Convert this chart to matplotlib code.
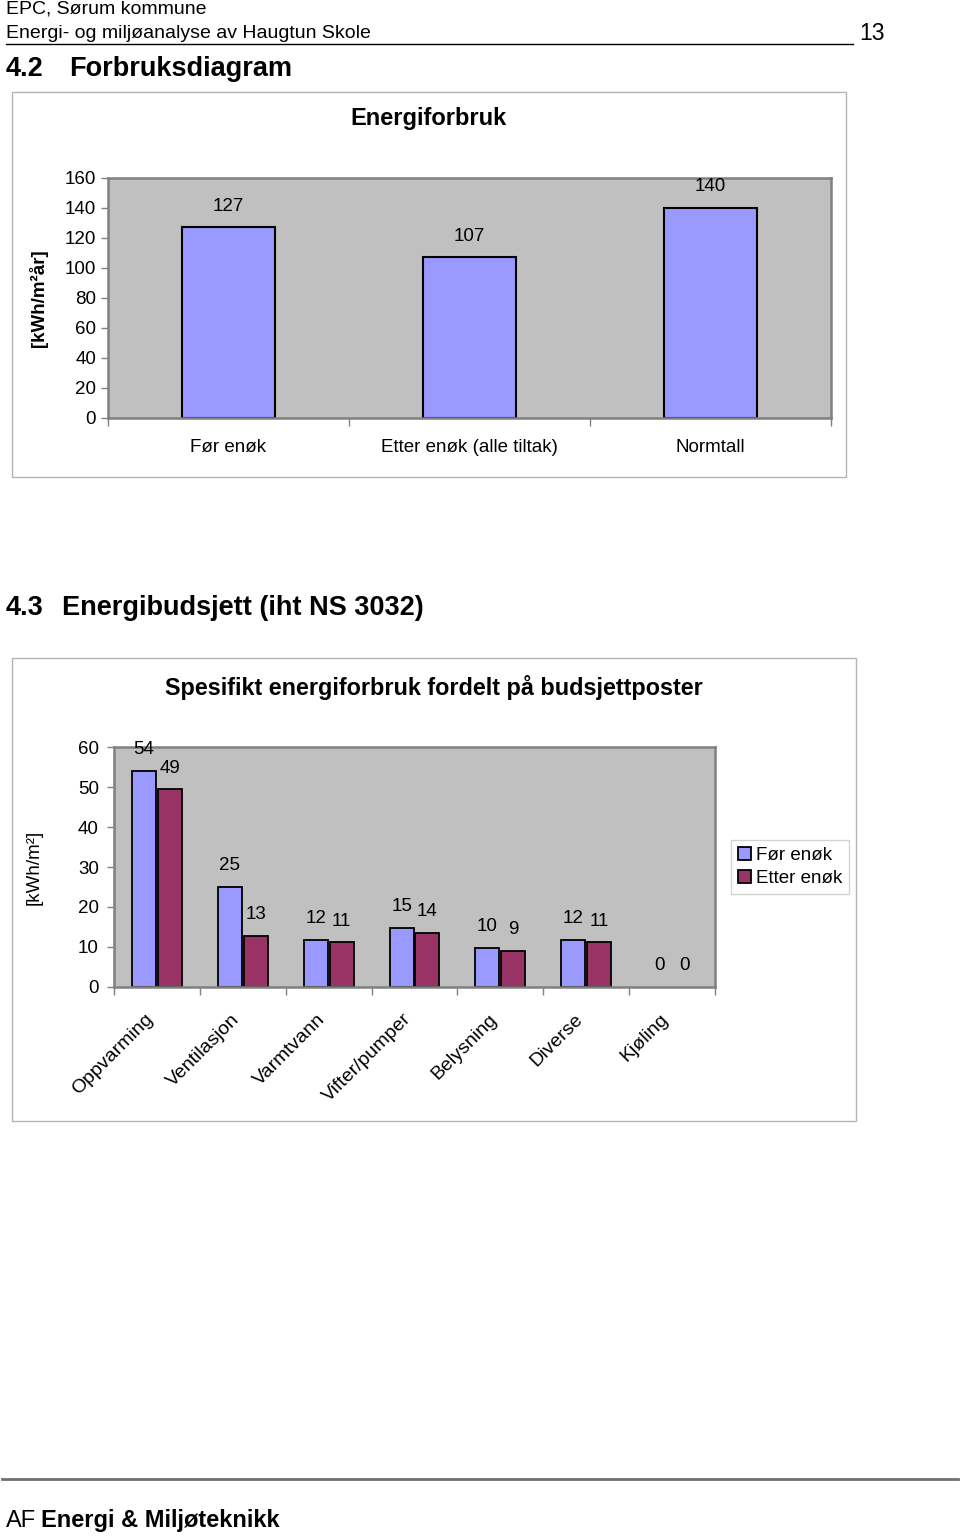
import matplotlib
matplotlib.use("Agg")
import matplotlib.pyplot as plt
from matplotlib.patches import Rectangle
from matplotlib.lines import Line2D
import numpy as np

plt.rcParams['font.family'] = ['Liberation Sans', 'DejaVu Sans']

# data - chart 1
cat1 = ["Før enøk", "Etter enøk (alle tiltak)", "Normtall"]
val1 = [127, 107, 140]
yticks1 = [0, 20, 40, 60, 80, 100, 120, 140, 160]

# data - chart 2
cat2 = ["Oppvarming", "Ventilasjon", "Varmtvann", "Vifter/pumper", "Belysning", "Diverse", "Kjøling"]
foer = [54, 25, 11.8, 14.8, 9.8, 11.8, 0]
etter = [49.4, 12.8, 11.2, 13.6, 9.0, 11.2, 0]
yticks2 = [0, 10, 20, 30, 40, 50, 60]
series2 = ["Før enøk", "Etter enøk"]

W, H = 960, 1537
fig = plt.figure(figsize=(W / 100, H / 100), dpi=100)

BLUE = "#9999FF"
RED = "#993366"
BG = "#C0C0C0"
GREY = "#808080"


def rect(l, t, r, b):
    return [l / W, 1 - b / H, (r - l) / W, (b - t) / H]


def ftext(x, y, s, **kw):
    fig.text(x / W, 1 - y / H, s, **kw)


def box(l, t, r, b):
    fig.patches.append(Rectangle((l / W, 1 - b / H), (r - l) / W, (b - t) / H,
                                 transform=fig.transFigure, fill=False,
                                 edgecolor="#b4b4b4", linewidth=1.0))


def style_axes(ax):
    ax.set_facecolor(BG)
    for s in ax.spines.values():
        s.set_color(GREY)
        s.set_linewidth(1.8)
    ax.tick_params(axis="y", colors=GREY, labelcolor="black", length=5, width=1)
    ax.tick_params(axis="x", which="both", colors=GREY, labelcolor="black", width=1)


# page header
ftext(6, 9, "EPC, Sørum kommune", fontsize=14, va="center", ha="left")
ftext(6, 34, "Energi- og miljøanalyse av Haugtun Skole", fontsize=14, va="center", ha="left")
fig.add_artist(Line2D([6 / W, 853 / W], [1 - 44 / H, 1 - 44 / H], color="black", linewidth=1))
ftext(872, 33, "13", fontsize=16.5, va="center", ha="center")
ftext(6, 69, "4.2", fontsize=19.5, fontweight="bold", va="center", ha="left")
ftext(69, 69, "Forbruksdiagram", fontsize=19.5, fontweight="bold", va="center", ha="left")

# chart 1
box(12, 92, 846, 477)
ftext(429, 119, "Energiforbruk", fontsize=17, fontweight="bold", ha="center", va="center")
ax1 = fig.add_axes(rect(108, 178, 831, 418))
style_axes(ax1)
x1 = np.arange(len(cat1))
b1 = ax1.bar(x1, val1, width=0.39, color=BLUE, edgecolor="black", linewidth=1.5)
ax1.bar_label(b1, labels=[str(v) for v in val1], padding=9, fontsize=13.5)
ax1.set_xlim(-0.5, len(cat1) - 0.5)
ax1.set_ylim(0, 160)
ax1.set_yticks(yticks1)
ax1.set_xticks(x1)
ax1.set_xticklabels(cat1, fontsize=13.5)
ax1.tick_params(axis="x", which="major", length=0, pad=15)
ax1.set_xticks(np.arange(len(cat1) + 1) - 0.5, minor=True)
ax1.tick_params(axis="x", which="minor", length=6)
ax1.tick_params(axis="y", labelsize=13.5)
ax1.set_ylabel("[kWh/m²år]", fontsize=13.5, fontweight="bold", labelpad=12)

# section 4.3
ftext(6, 608, "4.3", fontsize=19.5, fontweight="bold", va="center", ha="left")
ftext(62, 608, "Energibudsjett (iht NS 3032)", fontsize=19.5, fontweight="bold", va="center", ha="left")

# chart 2
box(12, 658, 856, 1121)
ftext(434, 687, "Spesifikt energiforbruk fordelt på budsjettposter", fontsize=16.8,
      fontweight="bold", ha="center", va="center")
ax2 = fig.add_axes(rect(114, 747, 715, 987))
style_axes(ax2)
x2 = np.arange(len(cat2))
w = 0.28
ba = ax2.bar(x2 - 0.15, foer, width=w, color=BLUE, edgecolor="black", linewidth=1.3, label=series2[0])
bb = ax2.bar(x2 + 0.15, etter, width=w, color=RED, edgecolor="black", linewidth=1.3, label=series2[1])
for p in list(ba) + list(bb):
    if p.get_height() == 0:
        p.set_linewidth(0)
ax2.bar_label(ba, fmt="%.0f", padding=9, fontsize=13.5)
ax2.bar_label(bb, fmt="%.0f", padding=9, fontsize=13.5)
ax2.set_xlim(-0.5, len(cat2) - 0.5)
ax2.set_ylim(0, 60)
ax2.set_yticks(yticks2)
ax2.tick_params(axis="y", labelsize=13.5, pad=6)
# label anchors sit a bit left of the category centre, as in the original
ax2.set_xticks(x2 - 0.14)
ax2.set_xticklabels(cat2, fontsize=14, rotation=45, ha="right", va="top", rotation_mode="anchor")
ax2.tick_params(axis="x", which="major", length=0, pad=17)
ax2.set_xticks(np.arange(len(cat2) + 1) - 0.5, minor=True)
ax2.tick_params(axis="x", which="minor", length=6)
ax2.set_ylabel("[kWh/m²]", fontsize=13.5)
ax2.yaxis.set_label_coords(-(114 - 43) / (715 - 114), 0.5)
fig.legend(handles=[ba, bb], labels=series2, loc="upper left",
           bbox_to_anchor=(731 / W, 1 - 840 / H), borderaxespad=0, fontsize=13.5,
           frameon=True, fancybox=False, edgecolor="#c8c8c8", handlelength=0.7,
           handleheight=0.7, handletextpad=0.3, borderpad=0.35, labelspacing=0.35)

# footer
fig.add_artist(Line2D([2 / W, 958 / W], [1 - 1479 / H, 1 - 1479 / H], color="#707070", linewidth=2))
ftext(6, 1521, "AF", fontsize=17, va="center", ha="left")
ftext(41, 1521, "Energi & Miljøteknikk", fontsize=17, fontweight="bold", va="center", ha="left")

fig.savefig("out.png", dpi=100)
